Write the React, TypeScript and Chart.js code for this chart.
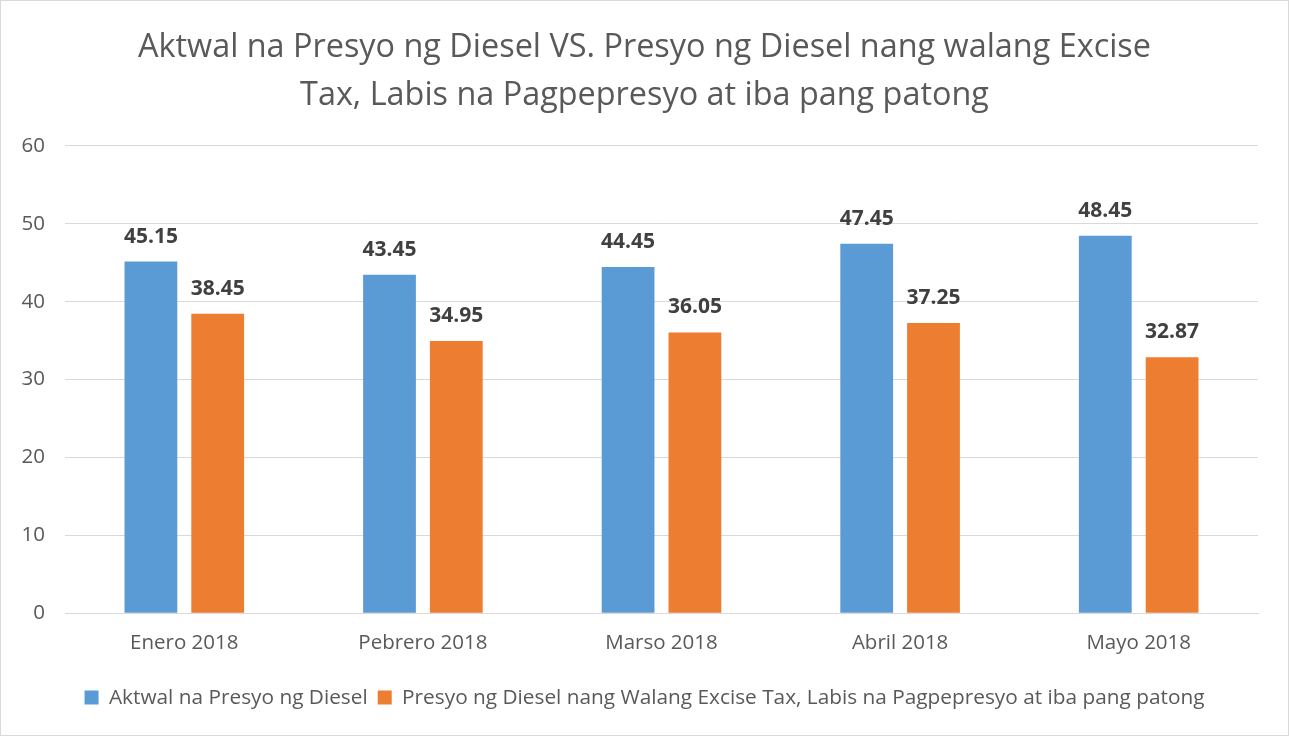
import React, { useEffect, useRef } from "react";
import { Chart, registerables } from "chart.js";

Chart.register(...registerables);

const categories = ["Enero 2018", "Pebrero 2018", "Marso 2018", "Abril 2018", "Mayo 2018"];
const actualPrice = [45.15, 43.45, 44.45, 47.45, 48.45];
const noTaxPrice = [38.45, 34.95, 36.05, 37.25, 32.87];
const seriesNames = [
  "Aktwal na Presyo ng Diesel",
  "Presyo ng Diesel nang Walang Excise Tax, Labis na Pagpepresyo at iba pang patong",
];
const titleLines = [
  "Aktwal na Presyo ng Diesel VS. Presyo ng Diesel nang walang Excise",
  "Tax, Labis na Pagpepresyo at iba pang patong",
];

const FONT = "'Open Sans', 'Noto Sans', sans-serif";
const TEXT = "#595959";

const dataLabels = {
  id: "dataLabels",
  afterDatasetsDraw(chart: any) {
    const ctx = chart.ctx;
    ctx.save();
    ctx.font = `bold 21px ${FONT}`;
    ctx.fillStyle = "#404040";
    ctx.textAlign = "center";
    ctx.textBaseline = "alphabetic";
    chart.data.datasets.forEach((ds: any, i: number) => {
      const meta = chart.getDatasetMeta(i);
      meta.data.forEach((el: any, j: number) => {
        const v = ds.data[j] as number;
        ctx.fillText(v.toFixed(2), el.x, el.y - 19);
      });
    });
    ctx.restore();
  },
};

export default function App() {
  const ref = useRef<HTMLCanvasElement>(null);
  useEffect(() => {
    document.body.style.margin = "0";
    const chart = new Chart(ref.current!, {
      type: "bar",
      data: {
        labels: categories,
        datasets: [
          {
            label: seriesNames[0],
            data: actualPrice,
            backgroundColor: "#5B9BD5",
            categoryPercentage: 0.56,
            barPercentage: 0.79,
          },
          {
            label: seriesNames[1],
            data: noTaxPrice,
            backgroundColor: "#ED7D31",
            categoryPercentage: 0.56,
            barPercentage: 0.79,
          },
        ],
      },
      options: {
        responsive: false,
        animation: false,
        layout: { padding: { left: 0, right: 0, top: 0, bottom: 17 } },
        plugins: {
          title: {
            display: true,
            text: titleLines,
            color: TEXT,
            font: { family: FONT, size: 32.4, weight: "normal", lineHeight: 1.48 },
            padding: { top: 23, bottom: 26 },
          },
          legend: {
            position: "bottom",
            labels: {
              color: TEXT,
              font: { family: FONT, size: 20.8 },
              boxWidth: 14,
              boxHeight: 14,
              padding: 10,
            },
          },
          tooltip: { enabled: false },
        },
        scales: {
          x: {
            grid: { display: false, drawTicks: false },
            border: { display: true, color: "#D9D9D9", width: 1 },
            ticks: { color: TEXT, font: { family: FONT, size: 20.5 }, padding: 18 },
            afterFit: (s: any) => {
              s.height = 64;
            },
          },
          y: {
            min: 0,
            max: 60,
            ticks: { stepSize: 10, color: TEXT, font: { family: FONT, size: 20.5 }, padding: 20 },
            grid: { color: "#D9D9D9", drawTicks: false },
            border: { display: false },
            afterFit: (s: any) => {
              s.width = 64;
            },
          },
          spacer: {
            type: "linear",
            position: "right",
            display: true,
            min: 0,
            max: 60,
            ticks: { display: false },
            grid: { display: false, drawTicks: false },
            border: { display: false },
            afterFit: (s: any) => {
              s.width = 30;
            },
          },
        },
      },
      plugins: [dataLabels],
    });
    return () => chart.destroy();
  }, []);
  return (
    <div
      style={{
        width: 1289,
        height: 736,
        boxSizing: "border-box",
        border: "1px solid #D9D9D9",
        background: "#fff",
      }}
    >
      <canvas ref={ref} width={1287} height={734} style={{ display: "block" }} />
    </div>
  );
}
